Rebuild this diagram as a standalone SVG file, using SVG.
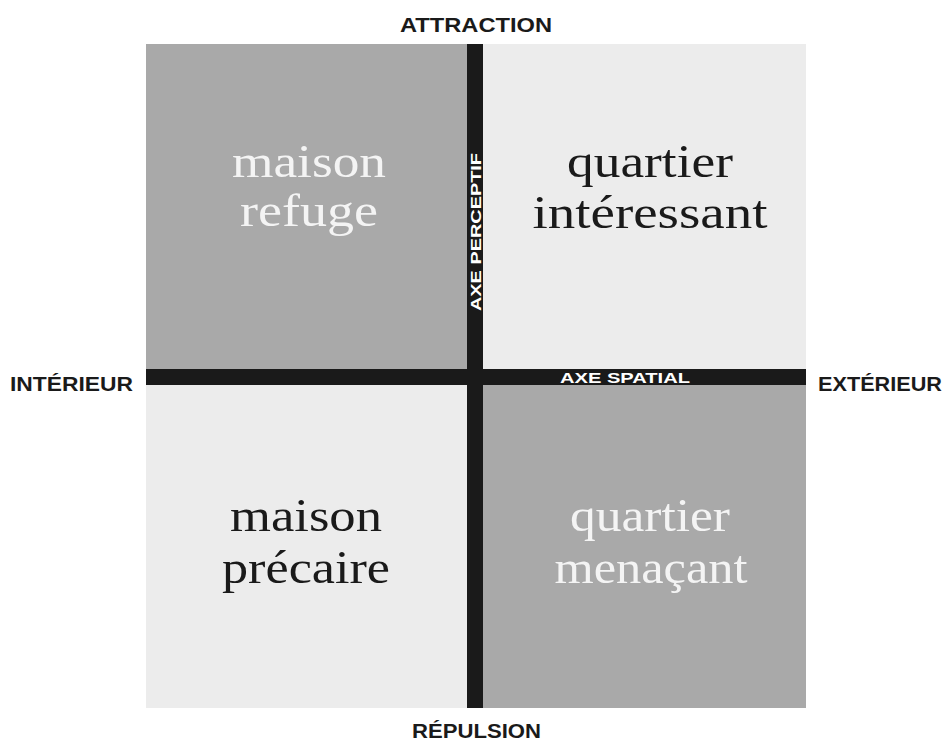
<svg xmlns="http://www.w3.org/2000/svg" width="947" height="744" viewBox="0 0 947 744">
<defs>
<style>
.dark{fill:#a9a9a9;}
.light{fill:#ececec;}
.bar{fill:#1a1a1a;}
.q{font-family:"Liberation Serif","Times New Roman",serif;font-size:46px;text-anchor:middle;}
.qd{fill:#f4f4f4;}
.ql{fill:#1a1a1a;}
.lab{font-family:"Liberation Sans",Arial,sans-serif;font-weight:bold;font-size:21px;fill:#1a1a1a;}
.ax{font-family:"Liberation Sans",Arial,sans-serif;font-weight:bold;font-size:15px;fill:#ffffff;}
</style>
</defs>
<rect width="947" height="744" fill="#ffffff"/>
<g id="maison-refuge">
<rect class="dark" x="146" y="44" width="321" height="325"/>
<text class="q qd" x="309" y="177" textLength="154" lengthAdjust="spacingAndGlyphs">maison</text>
<text class="q qd" x="309" y="226" textLength="138" lengthAdjust="spacingAndGlyphs">refuge</text>
</g>
<g id="quartier-interessant">
<rect class="light" x="483" y="44" width="323" height="325"/>
<text class="q ql" x="650" y="177" textLength="166" lengthAdjust="spacingAndGlyphs">quartier</text>
<text class="q ql" x="650" y="228" textLength="235" lengthAdjust="spacingAndGlyphs">intéressant</text>
</g>
<g id="maison-precaire">
<rect class="light" x="146" y="385" width="321" height="323"/>
<text class="q ql" x="306" y="531" textLength="152" lengthAdjust="spacingAndGlyphs">maison</text>
<text class="q ql" x="306" y="583" textLength="168" lengthAdjust="spacingAndGlyphs">précaire</text>
</g>
<g id="quartier-menacant">
<rect class="dark" x="483" y="385" width="323" height="323"/>
<text class="q qd" x="650" y="531" textLength="160" lengthAdjust="spacingAndGlyphs">quartier</text>
<text class="q qd" x="651" y="583" textLength="193" lengthAdjust="spacingAndGlyphs">menaçant</text>
</g>
<g id="axes">
<rect class="bar" x="467" y="44" width="16" height="664"/>
<rect class="bar" x="146" y="369" width="660" height="16"/>
<text class="ax" transform="translate(481,311) rotate(-90)" textLength="158" lengthAdjust="spacingAndGlyphs">AXE PERCEPTIF</text>
<text class="ax" x="560" y="383" textLength="130" lengthAdjust="spacingAndGlyphs">AXE SPATIAL</text>
</g>
<g id="labels">
<text class="lab" x="400" y="32" textLength="152" lengthAdjust="spacingAndGlyphs">ATTRACTION</text>
<text class="lab" x="412" y="738" textLength="129" lengthAdjust="spacingAndGlyphs">RÉPULSION</text>
<text class="lab" x="10" y="391" textLength="123" lengthAdjust="spacingAndGlyphs">INTÉRIEUR</text>
<text class="lab" x="818" y="391" textLength="124" lengthAdjust="spacingAndGlyphs">EXTÉRIEUR</text>
</g>
</svg>
